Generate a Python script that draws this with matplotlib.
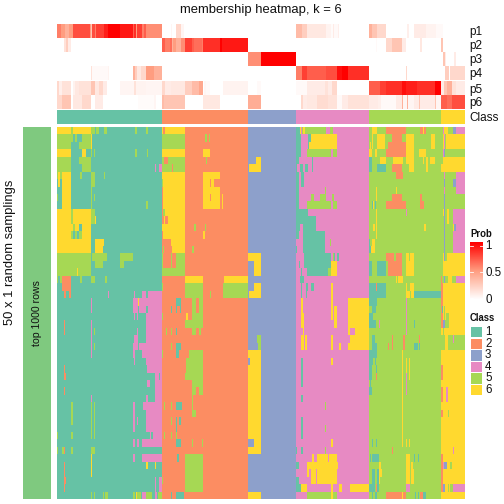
import numpy as np
import matplotlib
matplotlib.use("Agg")
import matplotlib.pyplot as plt
from matplotlib.colors import ListedColormap, LinearSegmentedColormap

plt.rcParams['font.family'] = ['Liberation Sans', 'DejaVu Sans']

N_COLS = 408
class_colors = ['#66C2A5', '#FC8D62', '#8DA0CB', '#E78AC3', '#A6D854', '#FFD92F']
class_labels = ['1', '2', '3', '4', '5', '6']
prob_ticks = ['1', '0.5', '0']
prob_names = ['p1', 'p2', 'p3', 'p4', 'p5', 'p6']
band_color = '#7FC97F'
title_text = 'membership heatmap, k = 6'
band_title = '50 x 1 random samplings'
band_label = 'top 1000 rows'

class_ends = [105, 191, 239, 312, 384, 408]

# (end column, membership probability) runs
p1 = [(4,.6),(8,.5),(12,.4),(16,.5),(33,.75),(34,.5),(35,.3),(38,.75),(39,.6),(47,.8),(51,.9),(63,1.0),(76,.92),(77,.7),(79,.85),(80,.5),(85,.8),(87,.6),(89,.7),(105,.55),(114,0),(115,.05),(119,0),(124,.2),(127,.05),(239,0),(245,.35),(250,.25),(269,.12),(274,.06),(276,.02),(277,.1),(281,.03),(282,.08),(312,0),(315,.4),(320,.3),(329,.2),(350,0),(352,.08),(357,0),(369,.1),(379,.06),(386,.03),(408,0)]
p2 = [(7,0),(9,.15),(11,.25),(14,.1),(105,0),(108,.7),(113,.6),(115,.65),(116,.4),(119,.5),(124,.4),(128,.55),(135,.8),(137,.7),(145,.65),(146,.6),(163,.85),(165,1.0),(191,.92),(319,0),(320,.03),(329,0),(335,.2),(345,.3),(349,.1),(363,0),(365,.12),(384,0),(386,.3),(408,0)]
p3 = [(191,0),(204,.55),(239,1),(386,0),(388,.3),(389,.1),(397,0),(399,.1),(408,0)]
p4 = [(34,0),(35,.15),(51,.03),(52,.06),(76,0),(78,.4),(80,.25),(84,.12),(89,.2),(97,.5),(105,.4),(239,0),(245,.6),(250,.8),(269,.7),(280,.75),(285,.95),(291,1),(312,.85),(349,0),(350,.2),(388,0),(392,.25),(393,0),(408,.2)]
p5 = [(2,.2),(5,.08),(14,.15),(16,0),(18,.07),(22,.12),(34,.15),(38,.3),(42,.12),(46,.2),(50,.1),(63,0),(77,.05),(79,.15),(89,.06),(105,.05),(108,.2),(114,.1),(128,.12),(135,.25),(142,.35),(146,.45),(147,0),(149,.05),(153,.03),(166,0),(191,.06),(200,0),(204,.03),(239,0),(250,.03),(268,.1),(271,.15),(275,.1),(280,.2),(312,0),(323,.7),(329,.8),(345,.85),(349,.95),(360,.9),(378,.85),(384,1),(387,.1),(390,.3),(395,.4),(399,.15),(408,.1)]
p6 = [(5,.2),(14,.3),(16,0),(25,.12),(34,.2),(38,0),(46,.1),(81,0),(97,.02),(99,.05),(105,0),(107,.35),(128,.3),(146,0),(163,.12),(191,0),(204,.42),(244,0),(246,.2),(250,.1),(260,.12),(271,.18),(280,.15),(285,.03),(291,.1),(312,.15),(321,.1),(324,.08),(339,.03),(345,.1),(346,.4),(350,.05),(351,.4),(357,.05),(362,.1),(363,.3),(378,.1),(379,.3),(384,.05),(390,.7),(395,.65),(408,.75)]

# departures from the consensus class, per sampling row: "class:from-to"
sec1 = ["6:0-14 5:14-16 6:16-34 5:34-38 5:39-42 5:47-50 5:78-80 5:89-91","5:0-16 5:18-20 5:25-34 6:34-35","5:0-14 5:22-34 6:34-35","6:0-14 6:25-29 5:34-35 5:37-38 5:78-80 5:90-91","5:0-14 5:22-34","5:0-14 5:25-34 4:98-99 4:102-105","5:0-1 6:1-3 5:3-5 6:5-14 5:23-25 5:34-38 5:47-48","6:1-3 6:5-14 5:34-38","6:5-14 5:34-35","5:0-1 6:5-14 5:34-35 5:37-38","6:5-14 5:34-35 5:89-91","6:0-14 5:14-16 6:16-34 5:34-38","6:0-14 5:14-16 6:16-34 5:34-38 6:38-39","6:0-16 5:16-18 6:18-22 6:25-34","6:0-14 5:14-16 5:18-20 5:22-25 6:25-34","6:0-34 6:38-47","6:0-34 6:38-46","5:0-34 5:35-50 5:63-76","5:0-34 5:38-46 5:63-67","5:0-34 6:20-21","5:0-1 5:3-5 2:5-14 5:23-25 5:34-38 5:48-50","2:5-14","2:7-9 2:12-14 4:51-52 4:77-78 4:85-89 4:91-105","4:34-35 4:76-81 6:81-82 4:82-105","4:34-35 4:76-81 4:82-89 4:91-105","4:77-78 4:80-81 4:89-105","2:7-8 4:34-35 4:89-105","2:7-8 4:34-35 5:37-38 4:80-81 4:89-105","4:34-35 4:77-81 4:89-105","4:34-35 5:37-38 4:76-81 4:82-105","4:34-35 4:76-78 4:85-105","4:77-78 4:89-105","2:7-8 4:90-105","2:7-9 4:98-102 4:103-105","4:90-93 4:98-105","2:7-8 4:98-105","4:34-35 4:89-91 4:98-105","5:14-16 5:34-35 5:37-38 4:76-78 4:86-105","5:14-16 5:34-35 5:37-38 4:76-78 4:89-105","5:14-16 5:34-35 5:37-38 4:76-78 4:80-81 4:89-105","5:34-35 5:37-38 4:76-78 4:89-105","5:0-1 5:14-16 5:34-35 5:37-38 4:93-94 4:96-105","4:76-78 4:80-82 4:85-105","5:0-1 5:5-7 2:7-8 5:14-16 5:34-38","6:34-35 4:76-78 4:85-105","2:7-8 6:34-35 6:89-91 6:98-99","2:7-8 6:34-35","2:7-9 4:98-99 4:102-105","2:7-8 4:98-99 4:102-105","5:34-35 5:37-38 5:46-47 5:48-51 5:76-78 6:79-80 5:80-84 4:85-89 5:89-95 4:98-100 5:101-105"]
sec2 = ["6:105-106 6:108-128","5:105-128 5:148-150 5:152-153","5:105-128","6:105-128 6:146-153","5:105-107 5:111-128 5:149-150","5:105-115 5:116-128","6:105-128 6:146-163","5:105-106 6:106-128 6:146-153 6:154-157","6:106-128 6:146-163","6:106-128 6:146-153 6:154-163 6:165-166","6:106-128 6:146-163 6:165-166","5:106-108 6:108-128","6:107-108 6:111-128","6:105-128 5:137-139 5:148-149","6:106-128 6:146-148","6:114-128","5:106-107 6:115-128 5:135-137","5:105-106 5:114-115 5:119-128","5:105-106 5:114-115 5:119-128","5:105-128","6:128-146 6:167-191","5:105-106 5:128-146 5:166-191","5:128-146 5:153-154 5:166-191","1:119-124 5:135-139 5:142-146","1:114-115 1:119-120 1:123-124 5:135-139 5:142-146","5:105-106 6:129-131 5:135-146","5:128-146","5:109-110 5:114-115 1:119-120 5:135-139 5:142-144","","5:114-115 1:119-124","5:105-106 1:119-122 5:132-146","5:129-146","5:129-146","5:128-146","5:135-146","5:135-139 5:142-146","5:135-136","5:107-108 5:114-115 1:119-125 5:135-136","5:135-139","5:114-115 1:119-120 1:122-124","1:119-120","5:107-108 5:114-115 5:119-120","1:119-124 5:135-136 5:145-146","","1:120-122 5:128-146","5:128-146","5:128-146","5:105-106 5:128-146","5:128-146","1:114-115 1:119-127"]
sec3 = ["","","","","6:199-204","6:192-204","","","","","","","","","","","","6:191-204","6:197-204","6:197-204","","6:197-204","6:192-204","","","","","","5:200-204","5:201-204","6:191-204","6:193-204","6:191-204","6:191-204","6:191-204","6:191-204","6:191-204","6:191-204","6:191-204","6:191-204","6:191-204","6:191-204","6:197-204","6:191-204","","","","","","6:191-204"]
sec4 = ["1:239-243 6:243-244 5:245-246 6:246-248 5:248-269 5:273-276","1:239-244 1:251-254 6:254-280","1:239-244 1:251-252 6:252-280","1:239-244 5:250-274 5:276-280","1:239-242 1:255-256","1:239-240 1:243-246 1:248-251 1:255-256","1:239-242 1:244-247","1:239-242 1:244-247","1:239-242 5:268-269","1:239-242 5:254-257 5:263-269 5:275-277","1:239-242 5:250-274 5:276-280","1:239-251","1:239-259","1:239-243 1:246-259","1:239-242 1:246-268","1:246-268 5:273-274","1:239-240 1:246-268","1:247-274 5:276-277 1:277-278 1:280-282","1:242-243 1:247-274 6:274-280","1:244-245 1:250-271 5:271-274 6:274-280","1:243-247","1:244-245 1:249-251 1:254-257 6:274-276","1:244-245 1:249-250 6:274-276","6:244-246 6:274-276 6:291-312","6:244-246 6:274-276 6:277-280 6:291-312","6:244-247 6:274-276 6:277-280 6:291-312","6:244-247 6:277-280 6:291-312","6:246-247 6:291-293 6:298-312","6:244-247 6:248-250 6:274-276 6:293-312","6:244-247 6:248-250 6:274-276 6:282-284 6:291-312","","1:244-246 6:274-276","1:244-246","1:244-246","1:244-246","","1:244-246","5:268-269","","1:244-246","1:244-246 5:268-269","1:244-246","6:274-276","1:239-240 1:244-246 5:268-269","6:255-257 6:260-271 6:272-280","1:239-242 6:250-281","6:250-252 6:254-259 6:260-280","1:239-242 6:254-259 6:260-280","1:239-244 6:244-250 6:274-276 6:282-285 6:293-312","5:250-274 6:274-276 5:276-280"]
sec5 = ["6:315-320 2:329-349 2:363-366 6:366-367 2:367-369","6:315-316 6:320-328 2:335-345 6:349-357 6:374-378","6:313-314 6:315-316 6:320-328 2:331-349 6:349-357 6:374-378","6:312-315 6:318-320 2:329-349 6:349-357 6:362-369","1:312-315 6:323-329 6:336-346 6:349-357 6:366-367 6:369-371 6:373-378","1:312-315 1:320-329 2:335-345 6:352-357 6:369-371","2:339-346","","6:319-320 6:339-340","6:319-320 2:335-345 2:363-365","1:315-316 6:316-317 1:318-319 2:329-349 2:363-367","6:319-320 4:349-350","6:319-320","6:316-318 6:319-320 6:367-369","6:319-320","1:312-313 6:315-318","1:312-314 6:314-318","2:329-337 2:339-345 6:349-352 6:353-357","1:312-315 1:320-329 2:331-345 6:349-357","1:312-315 1:320-329 2:331-345 6:349-357","6:339-340 6:341-346","1:312-329 2:319-320 6:349-350 6:353-357","1:312-329 6:349-353 6:354-357 1:357-384","1:312-320 4:349-350","1:315-319 4:349-350","1:312-316 4:349-350","1:312-319 4:322-323 4:349-350 1:357-358","4:349-350","1:315-318 2:335-336 2:346-348 2:362-363","1:315-320 2:331-332 2:335-336 2:346-348 1:357-361 1:362-363","1:312-320 6:345-346","1:312-316 1:318-319 6:345-346 6:349-350 6:352-353","1:312-315 1:319-320 6:345-346 6:349-350 6:352-353","1:312-315 2:319-320 6:345-346 4:349-350 6:352-353","1:313-314 6:345-346 4:349-350","1:312-315 6:345-346 4:349-350","6:345-346","6:345-346","6:345-346","6:345-346","6:345-346","6:345-346","1:315-316 1:319-320 6:345-346 6:349-350 6:352-353","2:335-336","1:313-314 1:315-322 6:349-353 1:357-358 1:361-362","6:322-324 6:349-353 6:354-356","1:315-318 1:320-322 6:322-325 6:349-353 6:354-357","1:315-318 1:320-322 6:322-323 6:349-353 6:354-357","1:312-318 2:319-320 1:320-322 4:349-353","1:315-316 1:318-320 2:329-345 6:345-346 2:346-349 1:358-359 1:361-362 2:363-366 1:366-369"]
sec6 = ["5:384-386 4:386-387 5:391-396 3:396-399 4:399-408","5:384-386 4:387-388 5:388-389","5:384-386 4:387-388 5:388-389","5:384-386 4:386-387 3:387-388 5:388-408","5:384-386","","5:384-387 4:387-388 5:388-399 4:399-408","5:384-387 3:387-388 5:388-396 3:396-399 4:399-408","5:384-387 4:387-388 5:388-399 4:399-408","5:384-387 3:387-388 5:388-408","5:384-387 3:387-388 5:388-408","5:384-386 3:387-388 5:388-390 6:390-392 5:392-396 4:396-408","5:384-390 3:387-388 5:392-396 4:396-408","5:384-387 3:387-388 5:388-396 3:397-399 4:399-408","5:384-396 3:387-388 4:396-408","5:384-396 3:387-388 4:396-408","5:384-396 3:387-388 4:396-408","5:384-386 3:387-388 5:388-390","5:384-386","5:384-386","2:384-385 5:385-387 3:387-388 5:388-391 5:395-399 4:399-408","2:384-386","2:384-386","2:384-386","2:384-385 1:385-386 5:387-388","2:384-386 5:387-388 5:389-392","2:384-386 3:386-388 5:388-392","5:386-387","5:384-388 5:391-408 4:396-397","5:384-388 5:391-408","","","2:384-386","2:384-386","","2:384-386 4:389-391","2:384-386 4:389-391","","2:384-386 5:391-392","","","","","4:396-397","2:384-386","2:384-386 4:386-387 3:387-390 5:393-395","2:384-386","2:384-386","2:384-386 3:386-388 5:391-392 5:393-396 4:396-408",""]

S = 504.0
def px_axes(fig, x0, y0, x1, y1):
    ax = fig.add_axes([x0/S, 1 - y1/S, (x1-x0)/S, (y1-y0)/S])
    ax.set_axis_off()
    return ax

def runs(spec):
    out = np.zeros(N_COLS)
    start = 0
    for end, v in spec:
        out[start:end] = v
        start = end
    return out

cls_row = np.zeros(N_COLS, dtype=int)
start = 0
for i, end in enumerate(class_ends):
    cls_row[start:end] = i
    start = end

mat = np.tile(cls_row, (50, 1))
for sec in (sec1, sec2, sec3, sec4, sec5, sec6):
    for r, s in enumerate(sec):
        for item in s.split():
            c, rng = item.split(':')
            a, b = rng.split('-')
            mat[r, int(a):int(b)] = int(c) - 1

cmap_cls = ListedColormap(class_colors)
cmap_prob = LinearSegmentedColormap.from_list('prob', ['#FFFFFF', '#FF9E81', '#FF0000'])

fig = plt.figure(figsize=(7, 7), dpi=72)

X0, X1 = 57, 465
probs = [p1, p2, p3, p4, p5, p6]
tops = [24, 38, 52, 66, 81, 95]
for name, spec, t in zip(prob_names, probs, tops):
    ax = px_axes(fig, X0, t, X1, t + 14)
    ax.imshow(runs(spec)[None, :], cmap=cmap_prob, vmin=0, vmax=1, aspect='auto', interpolation='nearest')
    fig.text(469/S, 1 - (t + 8.5)/S, name, fontsize=11.7, va='center', ha='left', color='#111111')

ax = px_axes(fig, X0, 110, X1, 124)
ax.imshow(cls_row[None, :], cmap=cmap_cls, vmin=0, vmax=5, aspect='auto', interpolation='nearest')
fig.text(469/S, 1 - 118/S, 'Class', fontsize=11.7, va='center', ha='left', color='#111111')

ax = px_axes(fig, X0, 127, X1, 499)
ax.imshow(mat, cmap=cmap_cls, vmin=0, vmax=5, aspect='auto', interpolation='nearest')

ax = px_axes(fig, 23, 127, 51, 499)
ax.imshow([[0]], cmap=ListedColormap([band_color]), aspect='auto')

fig.text(261/S, 1 - 10/S, title_text, fontsize=13, ha='center', va='center', color='#111111')
fig.text(10/S, 1 - 252/S, band_title, fontsize=13, rotation=90, ha='center', va='center', color='#111111')
fig.text(37/S, 1 - 313/S, band_label, fontsize=10.5, rotation=90, ha='center', va='center', color='#111111')

# Prob legend
fig.text(470/S, 1 - 234/S, 'Prob', fontsize=9.5, fontweight='bold', ha='left', va='center', color='#111111')
ax = px_axes(fig, 470, 242, 483, 300)
grad = np.linspace(1, 0, 58)[:, None]
ax.imshow(grad, cmap=cmap_prob, vmin=0, vmax=1, aspect='auto', extent=[0, 1, 0, 1])
for v in (0.0, 0.5, 1.0):
    yy = 0.03 + 0.9 * v
    ax.plot([0, 0.2], [yy, yy], color='white', lw=0.8)
    ax.plot([0.8, 1], [yy, yy], color='white', lw=0.8)
ax.set_xlim(0, 1); ax.set_ylim(0, 1)
for lab, y in zip(prob_ticks, (246, 273, 300)):
    fig.text(485/S, 1 - y/S, lab, fontsize=11.5, ha='left', va='center', color='#111111')

# Class legend
fig.text(470/S, 1 - 318/S, 'Class', fontsize=9.5, fontweight='bold', ha='left', va='center', color='#111111')
for i, lab in enumerate(class_labels):
    yc = 332 + 11.6 * i
    ax = px_axes(fig, 471, yc - 5, 482, yc + 5.4)
    ax.imshow([[i]], cmap=cmap_cls, vmin=0, vmax=5, aspect='auto')
    fig.text(485/S, 1 - yc/S, lab, fontsize=11.5, ha='left', va='center', color='#111111')

fig.savefig('out.png', dpi=72)
